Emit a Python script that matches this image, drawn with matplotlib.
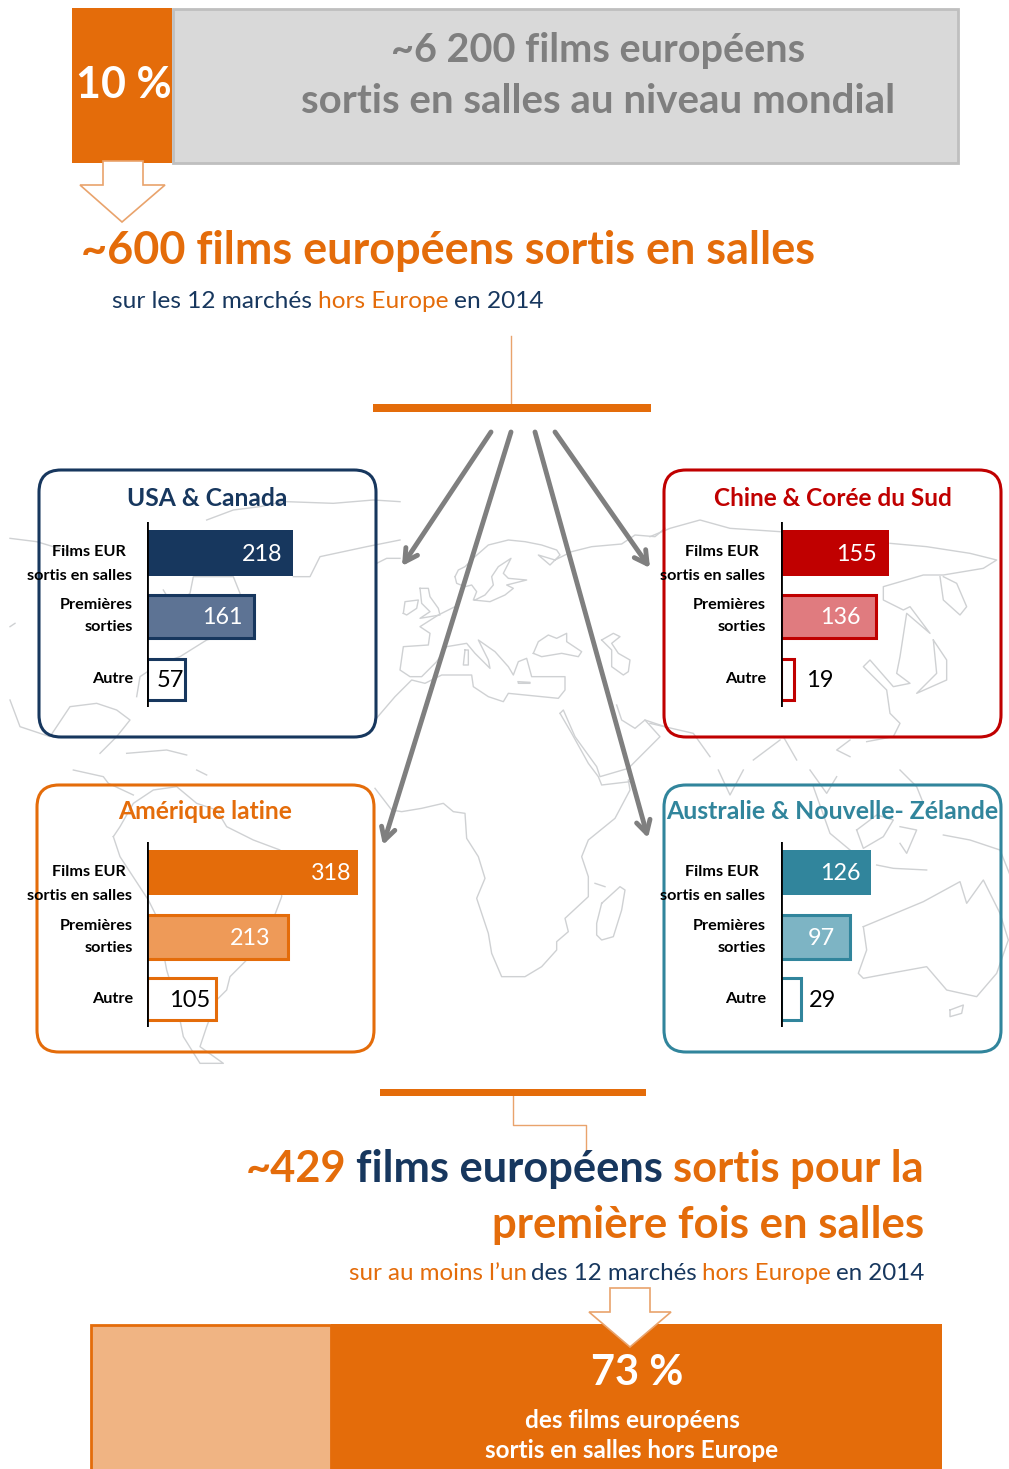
import matplotlib
matplotlib.use("Agg")
import matplotlib.pyplot as plt
from matplotlib.patches import Rectangle, FancyBboxPatch, Polygon

plt.rcParams['font.family'] = ['Lato', 'DejaVu Sans']

W, H = 1009, 1469
ORANGE = '#E46C0A'; NAVY = '#17375E'; RED = '#C00000'; TEAL = '#31859C'; GREY = '#7F7F7F'

row_labels = ['Films EUR\nsortis en salles', 'Premières\nsorties', 'Autre']
regions = ['USA & Canada', 'Chine & Corée du Sud', 'Amérique latine', 'Australie & Nouvelle- Zélande']
usa_values = [218, 161, 57]
china_values = [155, 136, 19]
latam_values = [318, 213, 105]
aus_values = [126, 97, 29]

fig = plt.figure(figsize=(W/100, H/100), dpi=100, facecolor='white')
ax = fig.add_axes([0, 0, 1, 1]); ax.set_xlim(0, W); ax.set_ylim(H, 0); ax.axis('off')

# stylised map backdrop (decoration), sketched in crop-space groups
MAP = '#CFD1D3'
def sketch(ox, oy, *lines):
    for ln in lines:
        ax.plot([ox+p[0]/3 for p in ln], [oy+p[1]/3 for p in ln], color=MAP, lw=1.0, zorder=1, solid_joinstyle='round')

sketch(375, 520,
 [(240,170),(250,150),(270,140),(300,110),(340,75),(400,60),(450,65),(500,75),(545,90),(555,105),(525,135),(490,105),(540,120),(590,95),(650,80),(740,72),(780,45),(840,50),(870,25)],
 [(240,170),(245,190),(270,200),(290,195),(305,215),(295,240),(345,245),(390,225),(415,205),(395,195),(455,180),(400,175),(385,160),(408,115),(370,140),(350,170),(355,195),(330,225),(300,240)],
 [(135,205),(160,205),(165,230),(190,265),(195,285),(135,295),(165,275),(140,250),(135,205)],
 [(85,280),(90,245),(130,240),(125,265),(95,285),(85,280)],
 [(240,260),(190,285),(135,320),(165,340),(160,375),(85,380),(75,450),(105,470),(140,470),(185,425),(215,380),(275,370),(300,400),(345,445),(340,420),(310,360),(360,395),(400,440),(415,465),(430,425),(455,415),(470,470),(520,470),(570,470),(570,510),(550,535),(400,520),(385,545),(340,530),(295,500),(290,465),(200,465),(150,490),(110,480),(60,530),(0,600)],
 [(475,400),(490,365),(520,345),(545,355),(575,340),(575,365),(620,395),(610,410),(560,400),(500,410),(475,400)],
 [(680,360),(715,340),(735,350),(710,370),(730,400),(765,420),(760,455),(745,465),(710,440),(710,390),(680,360)],
 [(555,580),(565,570),(600,650),(665,740),(675,770),(760,745),(855,650),(810,600),(780,625),(740,600),(725,555)],
 [(555,580),(590,640),(640,730),(670,770),(680,795),(765,785)],
 [(810,600),(870,620)],
 [(430,485),(465,487),(465,490),(430,490),(430,485)],
 [(270,390),(280,390),(280,435),(265,435),(270,390)],
)
sketch(375, 780,
 [(0,25),(50,90),(80,95),(140,85),(205,70),(235,95),(270,100),(275,175),(310,230),(330,295),(305,355),(340,460),(350,520),(380,590),(450,590),(500,560),(545,510),(545,485),(580,455),(570,415),(640,350),(640,290),(620,230),(640,180),(720,115),(765,30),(760,0)],
 [(680,370),(735,320),(750,330),(740,390),(715,470),(680,480),(665,465),(665,430),(680,370)],
 [(660,310),(690,320)],
)
sketch(0, 460,
 [(30,235),(110,245),(160,260),(230,280)],
 [(860,125),(1000,130),(1120,120),(1200,125)],
 [(880,350),(930,350),(960,290),(1100,260),(1200,240)],
 [(1130,310),(1160,295),(1200,295)],
 [(720,400),(700,350),(580,350),(570,400),(520,440),(490,390)],
 [(760,500),(620,540),(540,590),(480,610),(420,650),(410,710)],
 [(30,720),(60,800),(150,830),(210,740),(290,730),(350,750),(390,780),(350,830),(300,880)],
 [(380,880),(500,870),(560,885)],
 [(620,180),(700,150),(780,140),(850,125)],
 [(30,500),(45,490)],
)
sketch(650, 460,
 [(0,230),(60,205),(150,180),(240,205),(390,215)],
 [(720,250),(830,260),(960,280),(1040,300),(1000,325),(880,345),(820,345),(700,380),(700,420),(760,450),(780,440),(840,520),(770,460),(750,590),(740,640),(780,670),(730,680),(660,600),(640,620),(710,690),(720,760),(750,790),(730,830),(650,845)],
 [(880,350),(920,370),(950,440),(930,465),(880,420),(870,350)],
 [(850,540),(890,600),(890,660),(800,700),(830,670),(860,640),(850,540)],
 [(400,830),(440,900)],
 [(310,900),(390,840)],
 [(0,790),(130,820),(180,890)],
 [(600,840),(560,870),(600,890)],
)
sketch(650, 770,
 [(640,470),(760,420),(820,395),(930,335),(950,400),(1000,330),(1050,430),(1075,510),(1040,610),(980,680),(890,660),(830,590),(720,610),(640,625),(625,610),(650,540),(640,470)],
 [(900,720),(940,705),(935,730),(900,740),(900,720)],
 [(880,195),(960,210),(1050,240),(1078,310)],
 [(620,180),(680,135),(730,150),(700,200),(640,235),(620,180)],
 [(490,50),(540,190),(600,240)],
 [(680,285),(730,295),(830,300)],
 [(750,170),(800,180),(770,250),(750,220)],
 [(205,0),(240,75),(280,0)],
 [(480,0),(530,70),(560,20)],
 [(750,0),(800,50),(820,100)],
)
sketch(20, 770,
 [(280,200),(300,170),(340,100),(400,60),(470,50),(530,100),(590,120),(620,170),(700,210),(780,240),(785,380),(740,500),(690,560),(630,620),(620,660),(590,690),(560,770),(540,830),(610,880),(540,880),(490,800),(470,700),(440,600),(410,440),(385,390),(300,260),(280,200)],
 [(160,0),(250,20),(265,40),(340,75)],
 [(530,0),(560,15)],
)

# top banner
ax.add_patch(Rectangle((173, 9), 785, 154, fc='#D9D9D9', ec='#BFBFBF', lw=2, zorder=2))
ax.add_patch(Rectangle((72, 8), 100, 155, fc=ORANGE, ec='none', zorder=3))
ax.text(124, 85, '10 %', color='white', fontsize=31, fontweight='bold', ha='center', va='center', zorder=4)
ax.text(598, 50, '~6 200 films européens', color=GREY, fontsize=28.5, fontweight='bold', ha='center', va='center', zorder=4)
ax.text(598, 101, 'sortis en salles au niveau mondial', color=GREY, fontsize=29, fontweight='bold', ha='center', va='center', zorder=4)

def down_arrow(pts):
    ax.add_patch(Polygon(pts, closed=True, fc='white', ec='#E9A36C', lw=1.2, zorder=5))
down_arrow([(103,161),(143,161),(143,185),(165,185),(122,222),(80,185),(103,185)])

ax.text(81, 251, '~600 films européens sortis en salles', color=ORANGE, fontsize=32.4, fontweight='bold', ha='left', va='center', zorder=4)
x0 = 112
for s, col in [('sur les 12 marchés', NAVY), ('hors Europe', ORANGE), ('en 2014', NAVY)]:
    t = ax.text(x0, 301, s, color=col, fontsize=17.6, ha='left', va='center', zorder=4)
    fig.canvas.draw()
    x0 = t.get_window_extent().x1 + 5.5

ax.plot([511, 511], [336, 404], color='#E9A36C', lw=1, zorder=2)
ax.add_patch(Rectangle((373, 404), 278, 8, fc=ORANGE, ec='none', zorder=3))

# big arrows
for (a, b) in [((491,432),(402,566)), ((555,432),(650,568)), ((511,432),(383,845)), ((535,432),(648,838))]:
    ax.annotate('', xy=b, xytext=a, arrowprops=dict(arrowstyle='->,head_length=0.9,head_width=0.5', color='#7F7F7F', lw=3.5, shrinkA=0, shrinkB=0), zorder=4)

# panels
def panel(box, title, edge, values, bar_fill, row_tops, row_heights, base_x, scale, label_right, lab_x, lab_ys, title_y, title_fs):
    x0, y0, x1, y1 = box
    ax.add_patch(FancyBboxPatch((x0+18, y0+18), x1-x0-36, y1-y0-36, boxstyle='round,pad=18,rounding_size=22',
                                fc='none', ec=edge, lw=2.2, zorder=6))
    ax.text((x0+x1)/2, title_y, title, color=edge, fontsize=title_fs, fontweight='bold', ha='center', va='center', zorder=7)
    y_top = row_tops[0]-8; y_bot = row_tops[-1]+row_heights[-1]+6
    sub = ax.inset_axes([base_x/W, 1-y_bot/H, 230/W, (y_bot-y_top)/H])
    sub.set_xlim(0, 230/scale); sub.set_ylim(y_bot, y_top)
    sub.patch.set_alpha(0); sub.axis('off'); sub.set_zorder(8)
    for i, (v, top, h) in enumerate(zip(values, row_tops, row_heights)):
        sub.barh(top+h/2, v, height=h if i == 0 else h-2, left=0, color=bar_fill[i],
                 edgecolor=edge if i else bar_fill[i], linewidth=2.2 if i else 0)
        inside = i < 2
        ax.text(label_right[i], top+h/2+1, str(v), color='white' if inside else 'black',
                fontsize=16.8 if inside else 17, ha='right', va='center', zorder=10)
    sub.axvline(0, color='black', lw=2)
    for k, (lab, ly) in enumerate(zip(row_labels, lab_ys)):
        lines = lab.split('\n')
        if len(lines) == 2:
            d = 12 if k == 0 else 11
            ax.text(lab_x-7 if k == 0 else lab_x, ly-d, lines[0], fontsize=11.7, fontweight='bold', color='black', ha='right', va='center', zorder=9)
            ax.text(lab_x-1 if k == 0 else lab_x, ly+d, lines[1], fontsize=11.7, fontweight='bold', color='black', ha='right', va='center', zorder=9)
        else:
            ax.text(lab_x, ly, lab, fontsize=11.7, fontweight='bold', color='black', ha='right', va='center', zorder=9)

upper_tops = [530, 594, 658]; upper_h = [46, 45, 43]
lower_tops = [850, 914, 977]; lower_h = [45, 46, 44]
panel((39,470,376,737), regions[0], NAVY, usa_values, [NAVY, '#5D7394', 'white'], upper_tops, upper_h, 146.5, 0.67, [282,243,184], 133, [564,616,679], 498, 17.7)
panel((664,470,1001,737), regions[1], RED, china_values, [RED, '#E07B7F', 'white'], upper_tops, upper_h, 780.5, 0.70, [877,861,834], 766, [564,616,679], 498, 17.6)
panel((37,785,374,1052), regions[2], ORANGE, latam_values, [ORANGE, '#EE9A58', 'white'], lower_tops, lower_h, 146.5, 0.665, [351,270,210], 133, [884,937,999], 811, 17.7)
panel((664,785,1001,1052), regions[3], TEAL, aus_values, [TEAL, '#7DB4C4', 'white'], lower_tops, lower_h, 780.5, 0.72, [861,835,836], 766, [884,937,999], 811, 17.9)

# bottom
ax.add_patch(Rectangle((380, 1089), 266, 7, fc=ORANGE, ec='none', zorder=3))
ax.plot([513,513,586,586], [1096,1125,1125,1150], color='#E9A36C', lw=1, zorder=2)

def right_line(y, parts, fs, weight):
    x = 924
    for s, col in reversed(parts):
        t = ax.text(x, y, s, color=col, fontsize=fs, fontweight=weight, ha='right', va='center', zorder=4)
        fig.canvas.draw()
        x = t.get_window_extent().x0 - (fs*0.28 if weight == 'normal' else fs*0.33)

right_line(1169, [('~429', ORANGE), ('films européens', NAVY), ('sortis pour la', ORANGE)], 31.2, 'bold')
right_line(1225, [('première fois en salles', ORANGE)], 31.5, 'bold')
right_line(1273, [("sur au moins l’un", ORANGE), ('des 12 marchés', NAVY), ('hors Europe', ORANGE), ('en 2014', NAVY)], 17.4, 'normal')

ax.add_patch(Rectangle((91, 1325), 240, 160, fc='#F0B483', ec=ORANGE, lw=2, zorder=3))
ax.add_patch(Rectangle((331, 1324), 611, 160, fc=ORANGE, ec='none', zorder=3))
down_arrow([(610,1288),(650,1288),(650,1312),(671,1312),(630,1347),(589,1312),(610,1312)])
ax.text(637, 1373, '73 %', color='white', fontsize=30, fontweight='bold', ha='center', va='center', zorder=6)
ax.text(632, 1420, 'des films européens', color='white', fontsize=17.5, fontweight='bold', ha='center', va='center', zorder=6)
ax.text(632, 1451, 'sortis en salles hors Europe', color='white', fontsize=17.5, fontweight='bold', ha='center', va='center', zorder=6)

fig.savefig('out.png', dpi=100, facecolor='white')
